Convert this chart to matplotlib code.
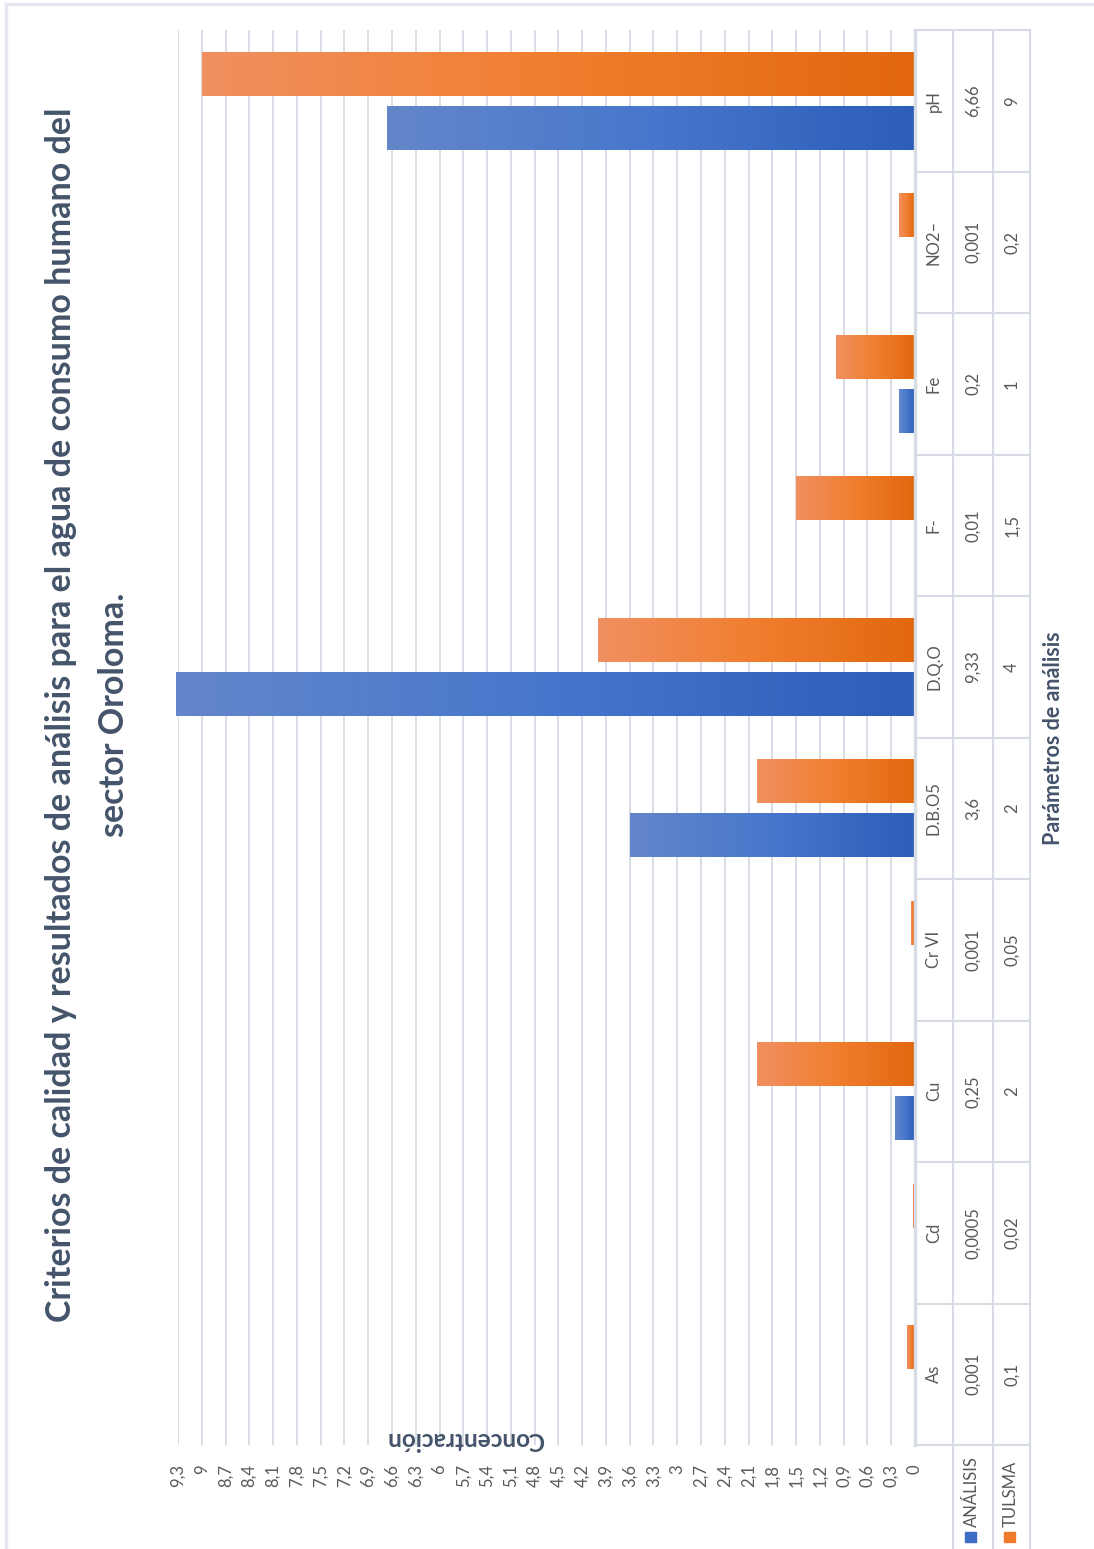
import numpy as np
import matplotlib
matplotlib.use("Agg")
import matplotlib.pyplot as plt
from matplotlib.colors import LinearSegmentedColormap
from matplotlib.patches import Rectangle
from matplotlib.lines import Line2D

plt.rcParams['font.family'] = ['Lato', 'DejaVu Sans']

# ---------------- data ----------------
categories = ["As", "Cd", "Cu", "Cr VI", "D.B.O5", "D.Q.O", "F-", "Fe", "NO2\u2013", "pH"]
analisis = [0.001, 0.0005, 0.25, 0.001, 3.6, 9.33, 0.01, 0.2, 0.001, 6.66]
tulsma = [0.1, 0.02, 2, 0.05, 2, 4, 1.5, 1, 0.2, 9]
analisis_lbl = ["0,001", "0,0005", "0,25", "0,001", "3,6", "9,33", "0,01", "0,2", "0,001", "6,66"]
tulsma_lbl = ["0,1", "0,02", "2", "0,05", "2", "4", "1,5", "1", "0,2", "9"]
series_names = ["ANÁLISIS", "TULSMA"]
title_lines = ["Criterios de calidad y resultados de análisis para el agua de consumo humano del",
               "sector Oroloma."]
ylabel_txt = "Concentración"
xlabel_txt = "Parámetros de análisis"
ticks = [round(0.3 * k, 1) for k in range(32)]

W, H = 1094, 1549
fig = plt.figure(figsize=(W / 100, H / 100), dpi=100)
fig.patch.set_facecolor("white")

def fx(x):
    return x / W

def fy(y):
    return 1 - y / H

# plot area in pixels
L, R, T, B = 178, 915, 30, 1445
ax = fig.add_axes([fx(L), fy(B), fx(R) - fx(L), fy(T) - fy(B)])
ax.set_facecolor("none")

n = len(categories)
ypos = np.arange(n)
h = 0.31
off = 0.19

blue_cmap = LinearSegmentedColormap.from_list("b", ["#2c5db8", "#4777cc", "#6486ca"])
orange_cmap = LinearSegmentedColormap.from_list("o", ["#e2670f", "#f07e2e", "#f19060"])
grad = np.linspace(0, 1, 256).reshape(1, -1)

for vals, sign, cm in ((analisis, -1, blue_cmap), (tulsma, 1, orange_cmap)):
    bars = ax.barh(ypos + sign * off, vals, height=h, color="none", edgecolor="none", zorder=3)
    for patch, val, yc in zip(bars.patches, vals, ypos + sign * off):
        im = ax.imshow(grad, extent=(0, val, yc - h / 2, yc + h / 2), cmap=cm,
                       aspect="auto", interpolation="bicubic", zorder=3)
        im.set_clip_path(patch)

ax.set_xlim(9.3, 0)
ax.set_ylim(-0.5, n - 0.5)
ax.set_xticks(ticks)
ax.set_xticklabels([f"{t:.1f}".rstrip("0").rstrip(".").replace(".", ",") for t in ticks],
                   rotation=90, fontsize=12, color="#595959")
ax.tick_params(axis="x", length=0, pad=14)
ax.set_yticks([])
ax.grid(axis="x", color="#d9dde6", linewidth=1.4, zorder=0)
ax.set_axisbelow(True)
for s in ax.spines.values():
    s.set_visible(False)

# axes-coord helper for table columns
def axx(px):
    return (px - L) / (R - L)

tr = ax.get_yaxis_transform()
line_col = "#d6dbe4"
# table vertical lines (left edge sits on value 0)
ax.axvline(0, color=line_col, lw=2.4, zorder=6, clip_on=False)
for xp in (953, 993, 1030):
    ax.add_line(Line2D([axx(xp)] * 2, [n - 0.5, -0.5], transform=tr, color=line_col, lw=1.5, clip_on=False))
# table horizontal lines
for k in range(n + 1):
    ax.add_line(Line2D([axx(915), axx(1030)], [k - 0.5] * 2, transform=tr, color=line_col, lw=1.5, clip_on=False))

txt_col = "#595959"
for i in range(n):
    ax.text(axx(934), ypos[i], categories[i], transform=tr, rotation=90, ha="center", va="center",
            fontsize=12, color=txt_col)
    ax.text(axx(973), ypos[i], analisis_lbl[i], transform=tr, rotation=90, ha="center", va="center",
            fontsize=12, color=txt_col)
    ax.text(axx(1012), ypos[i], tulsma_lbl[i], transform=tr, rotation=90, ha="center", va="center",
            fontsize=12, color=txt_col)

# overlay for frame / legend cell lines
ov = fig.add_axes([0, 0, 1, 1], zorder=-1)
ov.set_xlim(0, W)
ov.set_ylim(H, 0)
ov.axis("off")
for xp in (953, 993, 1030):
    ov.plot([xp, xp], [1445, 1549], color=line_col, lw=1.5)
ov.plot([6, 6], [4, H], color="#e4e7ee", lw=2.5)
ov.plot([6, W], [4, 4], color="#e4e7ee", lw=2.5)

# legend
ov.add_patch(Rectangle((965, 1532), 11, 10, color="#3f6cc5", zorder=2))
ov.add_patch(Rectangle((1004, 1532), 11, 10, color="#ef7a2a", zorder=2))
fig.text(fx(972), fy(1527), series_names[0], rotation=90, ha="center", va="bottom",
         fontsize=12, color=txt_col)
fig.text(fx(1011), fy(1527), series_names[1], rotation=90, ha="center", va="bottom",
         fontsize=12, color=txt_col)

# titles
title_col = "#44546a"
fig.text(fx(61), fy(715), title_lines[0], rotation=90, ha="center", va="center",
         fontsize=24.5, fontweight="bold", color=title_col)
fig.text(fx(114), fy(715), title_lines[1], rotation=90, ha="center", va="center",
         fontsize=24.5, fontweight="bold", color=title_col)
fig.text(fx(465), fy(1440), ylabel_txt, rotation=180, ha="center", va="center",
         fontsize=17.5, fontweight="bold", color=title_col)
fig.text(fx(1053), fy(738), xlabel_txt, rotation=90, ha="center", va="center",
         fontsize=15.5, fontweight="bold", color=title_col)

fig.savefig("out.png", dpi=100, facecolor="white")
